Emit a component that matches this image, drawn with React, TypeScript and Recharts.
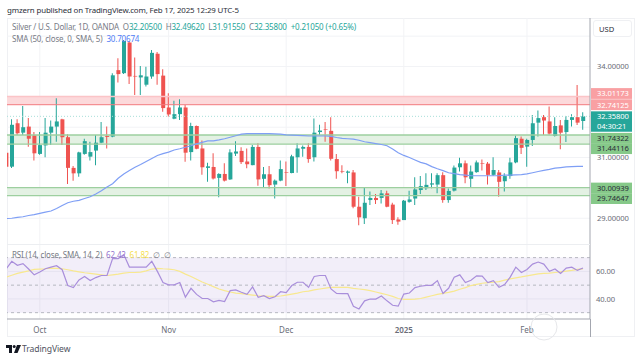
import { ComposedChart, Bar, Line, XAxis, YAxis, CartesianGrid, ReferenceArea, ReferenceLine, Cell } from 'recharts';

const opens = [31.16,30.70,32.13,31.82,32.02,31.73,31.12,31.40,31.82,32.02,32.26,31.67,30.66,30.48,31.12,31.03,31.23,31.49,31.71,31.69,33.88,33.78,34.79,33.69,33.64,33.40,33.67,34.42,33.70,32.65,32.28,32.43,32.65,31.18,32.04,31.30,30.66,30.69,30.33,30.46,30.28,31.13,31.22,30.87,30.75,31.35,30.30,30.45,30.11,30.24,30.52,30.49,31.01,31.29,31.35,31.01,31.84,31.94,31.88,30.95,30.55,30.50,30.51,29.38,29.00,29.60,29.67,29.67,29.82,29.45,28.96,28.94,29.54,29.65,29.93,29.99,30.11,30.11,30.42,29.60,29.91,30.68,30.81,30.30,30.52,30.82,30.80,30.43,30.51,30.22,30.39,30.84,31.62,31.36,31.58,32.15,32.33,32.19,31.71,32.06,31.84,32.24,32.33,32.205];
const highs = [31.25,32.26,32.26,32.70,32.30,31.84,31.84,32.30,32.22,32.95,32.28,31.77,30.72,31.19,31.62,31.52,31.74,32.17,32.02,33.78,34.27,34.87,34.82,34.30,34.02,33.99,34.54,34.48,33.91,33.12,32.87,32.92,32.73,32.15,32.06,31.56,30.83,31.14,30.48,30.81,31.27,31.54,31.34,31.30,31.41,31.47,30.69,30.72,30.28,30.90,30.87,31.09,31.47,31.40,31.47,32.29,32.08,32.17,32.33,31.12,30.75,30.57,30.59,29.71,30.02,29.88,29.80,29.93,29.91,29.51,29.03,29.60,29.91,30.35,30.39,30.48,30.48,30.48,30.52,29.98,30.74,30.99,30.90,30.74,30.90,30.94,30.85,31.01,30.59,30.48,30.99,31.73,31.69,31.62,32.40,32.55,32.40,32.68,32.33,32.24,32.37,32.43,33.39,32.4962];
const lows = [30.66,30.66,31.74,31.74,31.36,30.90,31.09,31.01,31.41,31.52,31.41,30.13,30.24,30.37,31.09,30.90,30.75,31.47,31.30,31.67,33.47,33.75,33.42,33.06,33.06,33.34,33.60,33.40,32.51,32.35,32.26,32.24,30.86,30.90,31.27,30.43,30.20,30.28,29.69,30.21,30.26,31.05,30.79,30.65,30.75,30.07,30.00,29.98,29.65,30.22,30.06,30.48,30.50,31.03,30.83,30.87,31.74,31.52,30.90,30.30,30.48,30.15,29.33,28.77,28.81,29.44,29.47,29.49,29.36,28.81,28.79,28.94,29.51,29.44,29.80,29.93,29.99,29.82,29.51,29.51,29.88,30.54,30.15,30.00,30.50,30.57,30.11,30.39,29.71,29.88,30.30,30.81,31.12,30.70,31.38,31.69,31.74,31.75,31.69,31.27,31.51,32.02,32.07,31.9155];
const closes = [30.70,32.08,31.80,32.00,31.62,31.14,31.41,31.82,32.02,32.19,31.67,30.66,30.48,31.17,31.54,31.18,31.49,31.67,31.68,33.71,33.75,34.84,33.67,33.67,33.71,33.67,34.45,33.75,32.63,32.42,32.43,32.65,31.16,32.04,31.29,30.68,30.71,30.31,30.46,30.24,31.17,31.20,30.85,30.78,31.35,30.28,30.45,30.09,30.24,30.62,30.50,31.04,31.30,31.35,30.95,31.82,31.89,31.92,30.96,30.55,30.53,30.54,29.38,29.03,29.51,29.67,29.60,29.82,29.38,28.94,28.89,29.58,29.62,29.95,30.06,30.10,30.15,30.42,29.60,29.90,30.67,30.81,30.35,30.54,30.84,30.80,30.43,30.59,30.20,30.39,30.84,31.64,31.32,31.58,32.13,32.30,32.22,31.79,32.04,31.82,32.24,32.33,32.15,32.358];
const smaValues = [28.99,29.00,29.03,29.05,29.09,29.12,29.16,29.20,29.24,29.32,29.42,29.51,29.56,29.59,29.65,29.71,29.80,29.91,30.03,30.14,30.32,30.46,30.57,30.68,30.77,30.87,30.97,31.07,31.13,31.18,31.25,31.29,31.34,31.39,31.45,31.50,31.55,31.55,31.58,31.62,31.67,31.72,31.77,31.79,31.79,31.79,31.79,31.79,31.78,31.77,31.75,31.74,31.73,31.72,31.71,31.71,31.71,31.71,31.70,31.66,31.63,31.62,31.61,31.57,31.52,31.49,31.46,31.43,31.39,31.28,31.16,31.07,31.00,30.92,30.84,30.79,30.70,30.63,30.57,30.50,30.47,30.44,30.42,30.40,30.40,30.40,30.40,30.40,30.40,30.42,30.42,30.43,30.44,30.46,30.50,30.54,30.58,30.61,30.65,30.67,30.69,30.70,30.71,30.71];
const rsiValues = [61.9,67.3,64.4,65.6,61.7,57.5,59.5,61.9,63.1,64.1,61.2,49.7,48.2,53.8,56.3,53.3,55.5,57.0,57.0,69.3,69.3,72.2,63.1,63.1,63.1,63.1,67.3,60.0,51.9,50.2,50.2,51.9,41.3,47.7,43.3,40.3,40.3,37.9,38.9,38.1,46.0,46.5,44.8,43.3,48.7,41.1,42.3,40.3,41.6,45.2,44.5,49.7,52.1,52.1,48.4,56.3,57.0,57.0,47.2,44.0,43.8,43.8,34.7,32.7,38.6,39.9,39.9,42.1,38.6,35.4,34.7,43.5,44.3,48.2,49.2,49.9,49.9,53.3,44.0,47.7,55.8,57.5,51.9,53.6,56.8,56.5,51.9,53.3,48.4,50.4,55.8,63.1,59.2,61.4,65.3,66.8,65.3,60.0,61.7,58.5,62.4,63.1,60.7,62.42];
const rsiSmaValues = [55.8,57.2,58.5,59.5,60.4,61.4,61.7,61.9,62.4,62.2,61.9,61.2,60.4,59.7,59.0,58.5,58.0,57.5,57.0,57.5,58.0,58.7,59.2,59.2,59.5,60.4,61.7,62.2,61.9,61.7,61.2,60.0,58.0,56.3,54.3,52.3,50.6,48.9,47.2,46.0,45.0,44.2,43.8,43.3,42.8,42.3,42.1,41.8,41.8,42.1,42.8,43.5,44.2,45.2,45.7,46.5,47.2,47.9,48.4,48.4,48.4,48.4,47.7,47.2,46.7,46.0,45.0,44.0,43.0,41.8,40.3,39.6,39.6,39.9,40.3,41.3,42.3,43.3,44.0,44.8,45.7,47.0,48.2,49.7,50.6,51.4,51.9,52.1,52.6,53.6,54.6,55.3,56.0,56.8,57.5,58.2,58.5,58.7,59.2,59.7,60.2,60.7,61.4,61.82];

const monthTicks = [6, 29, 50, 71, 93];
const monthLabels = ['Oct', 'Nov', 'Dec', '2025', 'Feb'];
const priceLabels = [34, 31, 29];
const priceGrid = [29, 30, 31, 32, 33, 34, 35];
const redZone = [32.74125, 33.01173];
const greenZoneHigh = [31.44116, 31.74322];
const greenZoneLow = [29.74647, 30.00939];
const lastPrice = 32.358;
const rsiLabels = [40, 60];
const rsiDashed = [30, 50, 70];

const UP = '#26a69a';
const DOWN = '#ef5350';
const FONT = '"Noto Sans", sans-serif';
const GRID = '#f2f3f6';
const AXIS = '#a3a6af';
const SCALE_TEXT = { fontSize: 7.6, letterSpacing: -0.1, fontFamily: FONT };

const candles = closes.map((close, i) => ({
  index: i,
  wick: [lows[i], highs[i]],
  body: [Math.min(opens[i], close), Math.max(opens[i], close)],
  up: close >= opens[i],
  sma: smaValues[i],
  rsi: rsiValues[i],
  rsiSma: rsiSmaValues[i],
}));

const xDomain = [0.143, 104.25];

// tags on the price scale; nudge = how far the tag got pushed to avoid its neighbour
const priceTags = [
  { value: redZone[1], text: '33.01173', bg: '#f9a0a3', color: '#fff', nudge: -3 },
  { value: redZone[0], text: '32.74125', bg: '#f9a0a3', color: '#fff', nudge: 0 },
  { value: greenZoneHigh[1], text: '31.74322', bg: '#86c989', color: '#2a2e39', nudge: 3.3 },
  { value: greenZoneHigh[0], text: '31.44116', bg: '#86c989', color: '#2a2e39', nudge: 4.5 },
  { value: greenZoneLow[1], text: '30.00939', bg: '#86c989', color: '#2a2e39', nudge: 0.4 },
  { value: greenZoneLow[0], text: '29.74647', bg: '#86c989', color: '#2a2e39', nudge: 3 },
];

function PriceTick({ y, payload }: any) {
  const left = 591;
  const tag = priceTags.find((t) => t.value === payload.value);
  if (tag) {
    const cy = y + tag.nudge;
    return (
      <g>
        <rect x={left} y={cy - 5.4} width={41} height={10.8} fill={tag.bg} />
        <text x={left + 6} y={cy + 2.8} {...SCALE_TEXT} fill={tag.color}>{tag.text}</text>
      </g>
    );
  }
  if (payload.value === lastPrice) {
    return (
      <g>
        <rect x={left} y={y - 5} width={41} height={20.4} fill={UP} />
        <text x={left + 6} y={y + 2.8} {...SCALE_TEXT} fill="#fff">32.35800</text>
        <text x={left + 6} y={y + 12.8} {...SCALE_TEXT} fill="#fff">04:30:21</text>
      </g>
    );
  }
  return (
    <text x={left + 6} y={y + 2.8} {...SCALE_TEXT} fill="#6a6d78">{payload.value.toFixed(5)}</text>
  );
}

function RsiTick({ y, payload }: any) {
  return (
    <text x={596} y={y + 2.8} {...SCALE_TEXT} fill="#6a6d78">{payload.value.toFixed(2)}</text>
  );
}

function MonthTick({ x, y, payload }: any) {
  const label = monthLabels[monthTicks.indexOf(payload.value)];
  return (
    <text x={x} y={y + 5.5} textAnchor="middle" fontSize={8} fontFamily={FONT} fontWeight={label === '2025' ? 600 : 400} fill="#6a6d78">{label}</text>
  );
}

function Legend({ top, children }: any) {
  return (
    <div style={{ position: 'absolute', left: 12, top, fontFamily: FONT, fontSize: 8, letterSpacing: -0.16, lineHeight: '12px', color: '#787b86', whiteSpace: 'pre' }}>
      {children}
    </div>
  );
}

function PriceChart() {
  return (
    <ComposedChart width={643} height={245} data={candles} margin={{ top: 18, right: 0, bottom: 1, left: 7 }}>
      <CartesianGrid stroke={GRID} horizontalValues={priceGrid} verticalValues={monthTicks} />
      <XAxis type="number" dataKey="index" domain={xDomain} allowDataOverflow hide />
      <XAxis type="number" xAxisId="wick" dataKey="index" domain={xDomain} allowDataOverflow hide />
      <YAxis
        orientation="right"
        width={53}
        domain={[28.152, 35.598]}
        allowDataOverflow
        ticks={[...priceLabels, ...priceTags.map((t) => t.value), lastPrice]}
        interval={0}
        tick={<PriceTick />}
        tickLine={false}
        axisLine={{ stroke: AXIS }}
      />
      <ReferenceArea y1={redZone[0]} y2={redZone[1]} fill="#fcd9db" fillOpacity={1} stroke="none" />
      <ReferenceLine y={redZone[1]} stroke="#fbc4c7" strokeWidth={1.5} />
      <ReferenceLine y={redZone[0]} stroke="#f27a7e" strokeWidth={1} />
      <ReferenceArea y1={greenZoneHigh[0]} y2={greenZoneHigh[1]} fill="#e3f1e3" fillOpacity={1} stroke="none" />
      <ReferenceLine y={greenZoneHigh[1]} stroke="#9dcf9f" strokeWidth={1.4} />
      <ReferenceLine y={greenZoneHigh[0]} stroke="#9dcf9f" strokeWidth={1.4} />
      <ReferenceArea y1={greenZoneLow[0]} y2={greenZoneLow[1]} fill="#e3f1e3" fillOpacity={1} stroke="none" />
      <ReferenceLine y={greenZoneLow[1]} stroke="#9dcf9f" strokeWidth={1.4} />
      <ReferenceLine y={greenZoneLow[0]} stroke="#9dcf9f" strokeWidth={1.4} />
      <ReferenceLine y={lastPrice} stroke="#a8dfd9" strokeDasharray="1 2" />
      <Bar xAxisId="wick" dataKey="wick" barSize={1} isAnimationActive={false}>
        {candles.map((c) => (
          <Cell key={c.index} fill={c.up ? UP : DOWN} />
        ))}
      </Bar>
      <Bar dataKey="body" barSize={4} isAnimationActive={false}>
        {candles.map((c) => (
          <Cell key={c.index} fill={c.up ? UP : DOWN} />
        ))}
      </Bar>
      <Line dataKey="sma" stroke="#7f9ff5" strokeWidth={1.2} dot={false} isAnimationActive={false} />
    </ComposedChart>
  );
}

function RsiChart() {
  return (
    <ComposedChart width={643} height={93} data={candles} margin={{ top: 0, right: 0, bottom: 0, left: 7 }}>
      <CartesianGrid stroke={GRID} horizontalValues={rsiLabels} verticalValues={monthTicks} />
      <XAxis
        type="number"
        dataKey="index"
        domain={xDomain}
        allowDataOverflow
        ticks={monthTicks}
        interval={0}
        height={18}
        tick={<MonthTick />}
        tickLine={false}
        axisLine={{ stroke: AXIS, strokeWidth: 1.2 }}
      />
      <YAxis
        orientation="right"
        width={53}
        domain={[25.4, 79.9]}
        allowDataOverflow
        ticks={rsiLabels}
        interval={0}
        tick={<RsiTick />}
        tickLine={false}
        axisLine={{ stroke: AXIS }}
      />
      <ReferenceArea y1={rsiDashed[0]} y2={rsiDashed[2]} fill="#7e57c2" fillOpacity={0.1} stroke="none" />
      {rsiDashed.map((v) => (
        <ReferenceLine key={v} y={v} stroke="#b6b8c0" strokeDasharray="3 3" />
      ))}
      <Line dataKey="rsiSma" stroke="#f8e88f" strokeWidth={1.2} dot={false} isAnimationActive={false} />
      <Line dataKey="rsi" stroke="#a98edb" strokeWidth={1.2} dot={false} isAnimationActive={false} />
    </ComposedChart>
  );
}

export default function App() {
  return (
    <div style={{ position: 'fixed', left: 0, top: 0, width: 643, height: 361, background: '#fff', overflow: 'hidden' }}>
      <div style={{ position: 'absolute', left: 7, top: 4, fontFamily: FONT, fontSize: 7.9, letterSpacing: -0.155, lineHeight: '12px', color: '#2a2e39', whiteSpace: 'pre' }}>
        gmzern published on TradingView.com, Feb 17, 2025 12:29 UTC-5
      </div>
      <div style={{ position: 'absolute', left: 7, top: 18, width: 628, height: 319, boxSizing: 'border-box', border: '1px solid #eff0f3' }} />
      <div style={{ position: 'absolute', left: 0, top: 0 }}>
        <PriceChart />
      </div>
      <div style={{ position: 'absolute', left: 0, top: 244 }}>
        <RsiChart />
      </div>
      <div style={{ position: 'absolute', left: 7, top: 244, width: 583, height: 1, background: '#eceef1' }} />
      <div style={{ position: 'absolute', left: 590, top: 319, width: 1, height: 18, background: AXIS }} />
      <Legend top={21}>
        {'Silver / U.S. Dollar, 1D, OANDA  '}
        <span style={{ color: UP }}>
          <span style={{ color: '#787b86' }}>O</span>32.20500  <span style={{ color: '#787b86' }}>H</span>32.49620  <span style={{ color: '#787b86' }}>L</span>31.91550  <span style={{ color: '#787b86' }}>C</span>32.35800  +0.21050 (+0.65%)
        </span>
      </Legend>
      <Legend top={33}>
        {'SMA (50, close, 0, SMA, 5)  '}
        <span style={{ color: '#4f7df5' }}>30.70674</span>
      </Legend>
      <Legend top={249}>
        {'RSI (14, close, SMA, 14, 2)  '}
        <span style={{ color: '#9575cd' }}>62.42</span>
        {'  '}
        <span style={{ color: '#f5e050' }}>61.82</span>
        {'  ∅  ∅'}
      </Legend>
      <div style={{ position: 'absolute', left: 593, top: 20, width: 39, height: 17, boxSizing: 'border-box', border: '1px solid #eff0f3', borderRadius: 3, fontFamily: FONT, fontSize: 7.6, lineHeight: '16px', paddingLeft: 5, color: '#2a2e39' }}>
        USD
      </div>
      <svg style={{ position: 'absolute', left: 6, top: 345 }} width={16} height={9}>
        <path d="M0 0H6V8H3V3H0Z M11 0H15L11.5 8H8Z" fill="#131722" />
        <circle cx={8.2} cy={1.6} r={1.5} fill="#131722" />
      </svg>
      <div style={{ position: 'absolute', left: 22, top: 343, fontFamily: FONT, fontSize: 8.6, letterSpacing: -0.1, lineHeight: '13px', color: '#50535e' }}>
        TradingView
      </div>
      <svg style={{ position: 'absolute', left: 530, top: 312 }} width={30} height={30}>
        <circle cx={14} cy={15} r={13} fill="none" stroke="#e6e7ea" strokeWidth={1} />
      </svg>
    </div>
  );
}
